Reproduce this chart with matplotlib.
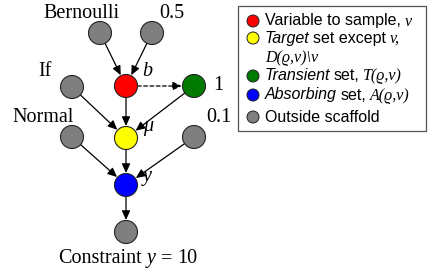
import numpy as np
import matplotlib
matplotlib.use("Agg")
import matplotlib.pyplot as plt
from matplotlib.patches import Circle, FancyArrowPatch, Rectangle

# ---- data -------------------------------------------------------------
node_names = ["bern", "p05", "b", "one", "if", "mu", "normal", "p01", "y", "cons"]
node_x = [100, 152, 126, 194, 72, 126, 72, 194, 126, 126]
node_y = [33, 33, 86, 86, 87, 138, 137, 137, 185, 232]
node_colors = ["#7f7f7f", "#7f7f7f", "#ff0000", "#007a00", "#7f7f7f",
               "#ffff00", "#7f7f7f", "#7f7f7f", "#0000ff", "#7f7f7f"]
edges_src = ["bern", "p05", "b", "b", "if", "one", "normal", "mu", "p01", "y"]
edges_dst = ["b", "b", "one", "mu", "mu", "mu", "y", "y", "y", "cons"]
edges_dashed = [False, False, True, False, False, False, False, False, False, False]

label_texts = ["Bernoulli", "0.5", "b", "1", "If", "Normal", "0.1", "μ", "y"]
label_x = [81, 172, 147, 218, 45, 43, 219, 148, 147]
label_y = [13, 13, 72, 85, 72, 117, 117, 126, 176]
label_italic = [False, False, True, False, False, False, False, True, True]

legend_colors = ["#ff0000", "#ffff00", "#007a00", "#0000ff", "#7f7f7f"]
legend_rows = [
    [("Variable to sample,", "sans"), ("v", "serif_it")],
    [("Target", "sans_it"), ("set except", "sans"), ("v,", "serif_it")],
    [("D(ϱ,v)\\v", "serif_it")],
    [("Transient", "sans_it"), ("set,", "sans"), ("T(ϱ,v)", "serif_it")],
    [("Absorbing", "sans_it"), ("set,", "sans"), ("A(ϱ,v)", "serif_it")],
    [("Outside scaffold", "sans")],
]
legend_row_y = [21, 38, 57, 76, 95, 117]
legend_marker_rows = [0, 1, 3, 4, 5]

# ---- drawing ----------------------------------------------------------
W, H = 430, 275
fig = plt.figure(figsize=(W / 100, H / 100), dpi=100)
ax = fig.add_axes([0, 0, 1, 1])
ax.set_xlim(0, W)
ax.set_ylim(H, 0)
ax.axis("off")

R = 11.5
pos = {n: (x, y) for n, x, y in zip(node_names, node_x, node_y)}

for s, d, dashed in zip(edges_src, edges_dst, edges_dashed):
    x0, y0 = pos[s]
    x1, y1 = pos[d]
    v = np.array([x1 - x0, y1 - y0], dtype=float)
    u = v / np.hypot(*v)
    p0 = (x0 + u[0] * R, y0 + u[1] * R)
    p1 = (x1 - u[0] * (R + 0.5), y1 - u[1] * (R + 0.5))
    arr = FancyArrowPatch(p0, p1, arrowstyle="-|>,head_length=0.55,head_width=0.25",
                          mutation_scale=10, color="black", lw=0.9,
                          linestyle=(0, (3, 2)) if dashed else "-",
                          shrinkA=0, shrinkB=0, zorder=2)
    ax.add_patch(arr)

for n, c in zip(node_names, node_colors):
    ax.add_patch(Circle(pos[n], R, facecolor=c, edgecolor="#222222", lw=0.8, zorder=3))

serif = ["Liberation Serif", "DejaVu Serif"]
sans = ["Liberation Sans", "DejaVu Sans"]

for t, x, y, it in zip(label_texts, label_x, label_y, label_italic):
    ax.text(x, y, t, family=serif, fontsize=14.5, style="italic" if it else "normal",
            ha="center", va="center", zorder=4)

renderer = fig.canvas.get_renderer()


def rich(x, y, pieces, size, gap=0.0, draw=True):
    cx = x
    made = []
    for i, (txt, kind) in enumerate(pieces):
        fam = serif if kind.startswith("serif") else sans
        st = "italic" if kind.endswith("_it") else "normal"
        t = ax.text(cx, y, txt, family=fam, style=st, fontsize=size,
                    ha="left", va="baseline", zorder=5)
        w = t.get_window_extent(renderer).width
        made.append(t)
        cx += w + gap
    if not draw:
        for t in made:
            t.remove()
    return cx - gap


cons_pieces = [("Constraint", "serif"), ("y", "serif_it"), ("=", "serif"), ("10", "serif")]
total = rich(0, -100, cons_pieces, 14.5, gap=5, draw=False)
rich(128 - total / 2, 263, cons_pieces, 14.5, gap=5)

# legend box
ax.add_patch(Rectangle((238, 6), 188, 125, facecolor="white", edgecolor="#555555",
                       lw=0.9, zorder=1))
for ri, c in zip(legend_marker_rows, legend_colors):
    ax.add_patch(Circle((253, legend_row_y[ri]), 6, facecolor=c, edgecolor="#222222",
                        lw=0.7, zorder=3))
for row, y in zip(legend_rows, legend_row_y):
    rich(265, y + 4.5, row, 11.5, gap=3.5)

fig.savefig("out.png", dpi=100)
